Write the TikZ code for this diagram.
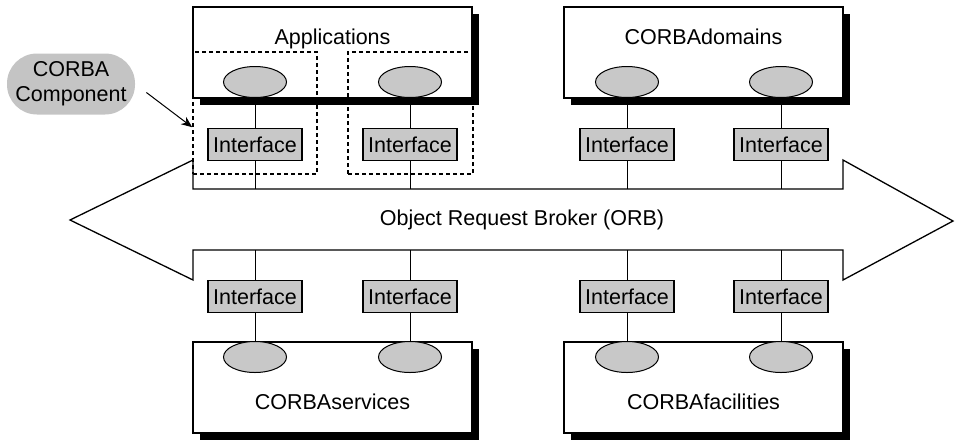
\documentclass[tikz,border=0pt]{standalone}
\usepackage{fontspec}
\setmainfont{Liberation Sans}
\usetikzlibrary{shapes, arrows.meta, positioning, calc, shadows}
\definecolor{partgray}{RGB}{200,200,200}
\definecolor{bubblegray}{RGB}{196,196,196}
\tikzset{
  facility/.style={draw, fill=white, line width=1.3pt, minimum width=279pt, minimum height=91pt, inner sep=0pt,
    drop shadow={shadow xshift=7pt, shadow yshift=-7pt, fill=black, opacity=1}},
  title/.style={inner sep=0pt, anchor=base},
  objpart/.style={ellipse, draw, fill=partgray, line width=1pt, minimum width=63pt, minimum height=31pt, inner sep=0pt},
  iface/.style={draw, fill=partgray, line width=1.2pt, minimum width=94pt, minimum height=32pt, inner sep=0pt},
  component/.style={draw, dash pattern=on 4pt off 3pt, line width=1.6pt, minimum height=122pt, inner sep=0pt},
  bubble/.style={fill=bubblegray, rounded corners=30pt, minimum width=128pt, minimum height=61pt, align=center, inner sep=0pt},
  wire/.style={line width=1pt},
}

\begin{document}
\begin{tikzpicture}[x=1pt, y=-1pt, font=\fontsize{21.5}{25}\selectfont]
  \useasboundingbox (0,0) rectangle (955,440);

  % object request broker
  \draw[line width=1.3pt] (193,189) -- (843,189) -- (843,160) -- (953,221) -- (843,280) -- (843,250)
    -- (193,250) -- (193,280) -- (70,220) -- (193,160) -- cycle;
  \coordinate (orbtop) at (0,189);
  \coordinate (orbbot) at (0,250);
  \node (orb) at (522,220) {Object Request Broker (ORB)};

  % the four groups
  \node[facility] (apps) at (332.5,52.5) {};
  \node[facility] (domains) at (703.5,52.5) {};
  \node[facility] (services) at (332.5,387.5) {};
  \node[facility] (facilities) at (703.5,387.5) {};
  \node[title] (appsT) at ($(apps.north)+(0,38)$) {Applications};
  \node[title] (domainsT) at ($(domains.north)+(0,38)$) {CORBAdomains};
  \node[title] (servicesT) at ($(services.north)+(0,68)$) {CORBAservices};
  \node[title] (facilitiesT) at ($(facilities.north)+(0,68)$) {CORBAfacilities};

  % objects
  \node[objpart] (appsA) at (255,82) {};
  \node[objpart] (appsB) at (410,82) {};
  \node[objpart] (domainsA) at (627,82) {};
  \node[objpart] (domainsB) at (781,82) {};
  \node[objpart] (servicesA) at (255,357) {};
  \node[objpart] (servicesB) at (410,357) {};
  \node[objpart] (facilitiesA) at (627,357) {};
  \node[objpart] (facilitiesB) at (781,357) {};

  % interfaces
  \node[iface] (ifA) at (255,144.5) {Interface};
  \node[iface] (ifB) at (410,144.5) {Interface};
  \node[iface] (ifC) at (627,144.5) {Interface};
  \node[iface] (ifD) at (781,144.5) {Interface};
  \node[iface] (ifE) at (255,296.5) {Interface};
  \node[iface] (ifF) at (410,296.5) {Interface};
  \node[iface] (ifG) at (627,296.5) {Interface};
  \node[iface] (ifH) at (781,296.5) {Interface};

  \draw[wire] (appsA) -- (ifA) -- (ifA |- orbtop);
  \draw[wire] (appsB) -- (ifB) -- (ifB |- orbtop);
  \draw[wire] (domainsA) -- (ifC) -- (ifC |- orbtop);
  \draw[wire] (domainsB) -- (ifD) -- (ifD |- orbtop);
  \draw[wire] (servicesA) -- (ifE) -- (ifE |- orbbot);
  \draw[wire] (servicesB) -- (ifF) -- (ifF |- orbbot);
  \draw[wire] (facilitiesA) -- (ifG) -- (ifG |- orbbot);
  \draw[wire] (facilitiesB) -- (ifH) -- (ifH |- orbbot);

  % corba components
  \node[component, minimum width=124pt] (compA) at (255,113) {};
  \node[component, minimum width=125pt] (compB) at (410.5,113) {};
  \node[bubble] (comp) at (71,84) {CORBA\\Component};
  \draw[-{Stealth[length=11pt, width=9pt]}, line width=1pt, shorten <=14pt] (comp.east) -- ($(compA.north west)+(0,76)$);
\end{tikzpicture}
\end{document}
